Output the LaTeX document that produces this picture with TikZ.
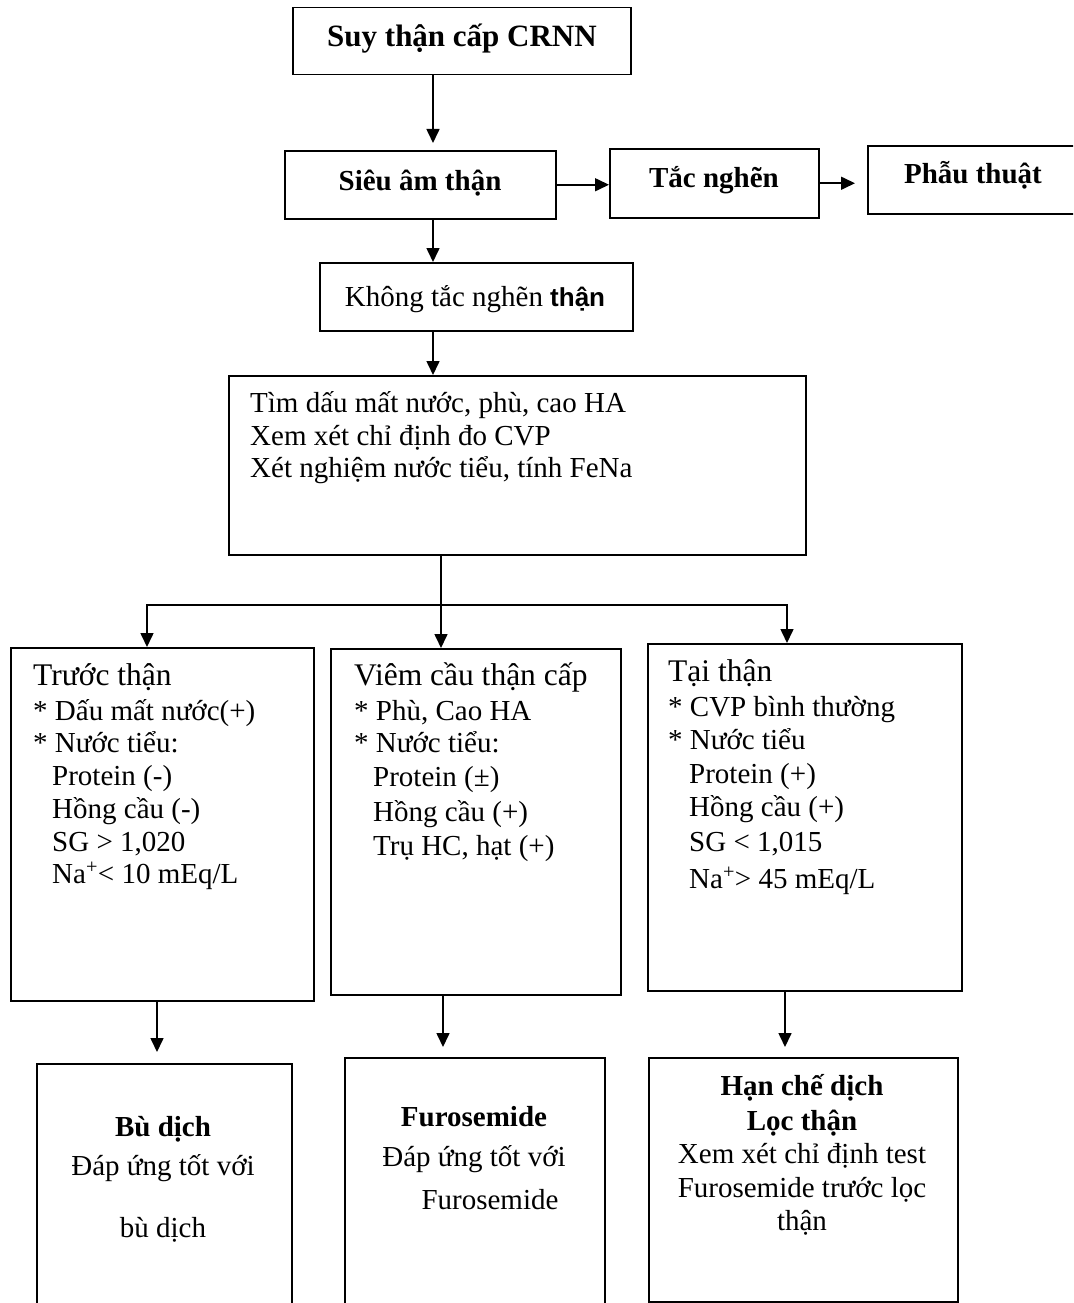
\documentclass[tikz,border=0pt]{standalone}
\usepackage{fontspec}
\setmainfont{Liberation Serif}
\newfontfamily\sansfam{Liberation Sans}
\usetikzlibrary{arrows.meta}
\begin{document}
\begin{tikzpicture}[x=1pt,y=-1pt,
  box/.style={draw, line width=1.5pt, inner sep=0pt, anchor=north west},
  arr/.style={line width=1.6pt, -{Triangle[length=14pt,width=13pt]}},
  tx/.style={inner sep=0pt, anchor=base, font=\fontsize{29}{33}\selectfont},
  txl/.style={tx, anchor=base west},
  txb/.style={tx, font=\fontsize{29}{33}\selectfont\bfseries},
  txh/.style={txl, font=\fontsize{31.5}{36}\selectfont},
  ttl/.style={tx, font=\fontsize{31}{36}\selectfont\bfseries}
]
\useasboundingbox (0,0) rectangle (1073,1303);
\clip (0,0) rectangle (1073,1303);
\fill[white] (0,0) rectangle (1073,1303);

% boxes
\node[box, minimum width=338pt, minimum height=67pt] (b1) at (292,7) {};
\node[box, minimum width=271pt, minimum height=68pt] (b2) at (284,150) {};
\node[box, minimum width=209pt, minimum height=69pt] (b3) at (609,148) {};
\node[box, minimum width=230pt, minimum height=68pt] (b4) at (867,145) {};
\node[box, minimum width=313pt, minimum height=68pt] (b5) at (319,262) {};
\node[box, minimum width=577pt, minimum height=179pt] (b6) at (228,375) {};
\node[box, minimum width=303pt, minimum height=353pt] (b7) at (10,647) {};
\node[box, minimum width=290pt, minimum height=346pt] (b8) at (330,648) {};
\node[box, minimum width=314pt, minimum height=347pt] (b9) at (647,643) {};
\node[box, minimum width=255pt, minimum height=280pt] (b10) at (36,1063) {};
\node[box, minimum width=260pt, minimum height=280pt] (b11) at (344,1057) {};
\node[box, minimum width=309pt, minimum height=244pt] (b12) at (648,1057) {};

% connector coordinates
\coordinate (cx1) at (433,0);
\coordinate (a1e) at (433,143);
\coordinate (tip4) at (855,0);
\coordinate (cx2) at (441,605);
\coordinate (cl) at (147,605);
\coordinate (cr) at (787,605);
\coordinate (d1) at (157,1052);
\coordinate (d2) at (443,1047);
\coordinate (d3) at (785,1047);

\draw[arr] (b1.south -| cx1) -- (a1e);
\draw[arr] (b2.east) -- (b2.east -| b3.west);
\draw[arr] (b3.east) -- (b3.east -| tip4);
\draw[arr] (b2.south -| cx1) -- (b5.north -| cx1);
\draw[arr] (b5.south -| cx1) -- (b6.north -| cx1);
\draw[arr] (b6.south -| cx2) -- (b8.north -| cx2);
\draw[arr] (cx2) -| (b7.north -| cl);
\draw[arr] (cx2) -| (b9.north -| cr);
\draw[arr] (b7.south -| d1) -- (d1);
\draw[arr] (b8.south -| d2) -- (d2);
\draw[arr] (b9.south -| d3) -- (d3);

% texts top
\node[ttl] (t1) at (462,47) {Suy thận cấp CRNN};
\node[txb] (t2) at (420,190) {Siêu âm thận};
\node[txb] (t3) at (714,187) {Tắc nghẽn};
\node[txb] (t4) at (973,183) {Phẫu thuật};
\node[tx] (t5) at (475,306) {Không tắc nghẽn {\sansfam\fontsize{26}{30}\selectfont\bfseries thận}};
\node[txl] (t6a) at (250,412) {Tìm dấu mất nước, phù, cao HA};
\node[txl] (t6b) at (250,445) {Xem xét chỉ định đo CVP};
\node[txl] (t6c) at (250,477) {Xét nghiệm nước tiểu, tính FeNa};

% Truoc than
\node[txh] (p0) at (33,685) {Trước thận};
\node[txl] (p1) at (33,720) {* Dấu mất nước(+)};
\node[txl] (p2) at (33,752) {* Nước tiểu:};
\node[txl] (p3) at (52,785) {Protein (-)};
\node[txl] (p4) at (52,818) {Hồng cầu (-)};
\node[txl] (p5) at (52,851) {SG > 1,020};
\node[txl] (p6) at (52,883) {Na\textsuperscript{+}< 10 mEq/L};

% Viem cau than cap
\node[txh] (v0) at (354,685) {Viêm cầu thận cấp};
\node[txl] (v1) at (354,720) {* Phù, Cao HA};
\node[txl] (v2) at (354,752) {* Nước tiểu:};
\node[txl] (v3) at (373,786) {Protein (±)};
\node[txl] (v4) at (373,821) {Hồng cầu (+)};
\node[txl] (v5) at (373,855) {Trụ HC, hạt (+)};

% Tai than
\node[txh] (r0) at (668,681) {Tại thận};
\node[txl] (r1) at (668,716) {* CVP bình thường};
\node[txl] (r2) at (668,749) {* Nước tiểu};
\node[txl] (r3) at (689,783) {Protein (+)};
\node[txl] (r4) at (689,816) {Hồng cầu (+)};
\node[txl] (r5) at (689,851) {SG < 1,015};
\node[txl] (r6) at (689,888) {Na\textsuperscript{+}> 45 mEq/L};

% bottom boxes
\node[txb] (u1) at (163,1136) {Bù dịch};
\node[tx] (u2) at (163,1175) {Đáp ứng tốt với};
\node[tx] (u3) at (163,1237) {bù dịch};

\node[txb] (f1) at (474,1126) {Furosemide};
\node[tx] (f2) at (474,1166) {Đáp ứng tốt với};
\node[tx] (f3) at (490,1209) {Furosemide};

\node[txb] (h1) at (802,1095) {Hạn chế dịch};
\node[txb] (h2) at (802,1130) {Lọc thận};
\node[tx] (h3) at (802,1163) {Xem xét chỉ định test};
\node[tx] (h4) at (802,1197) {Furosemide trước lọc};
\node[tx] (h5) at (802,1230) {thận};
\end{tikzpicture}
\end{document}
